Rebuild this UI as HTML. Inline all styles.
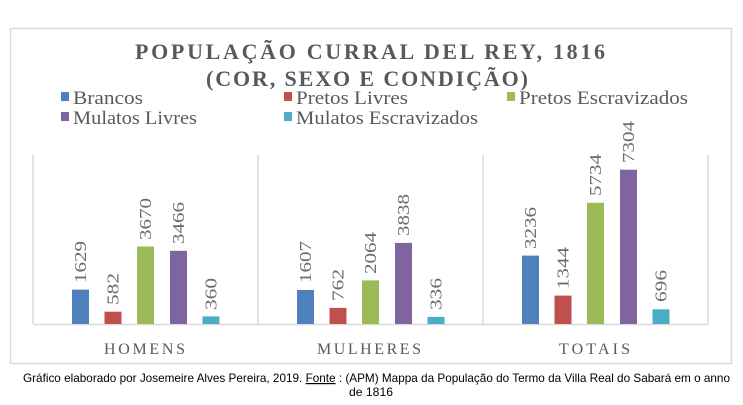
<!DOCTYPE html>
<html><head><meta charset="utf-8"><style>
body{margin:0;background:#fff;}
svg{display:block;}
</style></head><body>
<svg width="743" height="405" viewBox="0 0 743 405" xmlns="http://www.w3.org/2000/svg">
<rect x="10.5" y="28.5" width="721" height="335" fill="#fff" stroke="#d9d9d9" stroke-width="1.5"/>
<g font-family="Liberation Serif, serif" fill="#595959">
<text x="135" y="59" font-size="22" font-weight="bold" textLength="470" lengthAdjust="spacing">POPULAÇÃO CURRAL DEL REY, 1816</text>
<text x="206" y="86" font-size="22" font-weight="bold" textLength="322" lengthAdjust="spacing">(COR, SEXO E CONDIÇÃO)</text>
<g font-size="19">
<rect x="61" y="92" width="8" height="9" fill="#4f81bd"/><text x="73" y="104" textLength="70" lengthAdjust="spacingAndGlyphs">Brancos</text>
<rect x="284" y="92" width="8" height="9" fill="#c0504d"/><text x="296" y="104" textLength="112" lengthAdjust="spacingAndGlyphs">Pretos Livres</text>
<rect x="507" y="92" width="8" height="9" fill="#9bbb59"/><text x="519" y="104" textLength="169" lengthAdjust="spacingAndGlyphs">Pretos Escravizados</text>
<rect x="61" y="112" width="8" height="9" fill="#8064a2"/><text x="73" y="124" textLength="124" lengthAdjust="spacingAndGlyphs">Mulatos Livres</text>
<rect x="284" y="112" width="8" height="9" fill="#4bacc6"/><text x="296" y="124" textLength="182" lengthAdjust="spacingAndGlyphs">Mulatos Escravizados</text>
</g>
</g>
<g stroke="#d9d9d9" stroke-width="1.5">
<line x1="33" y1="155" x2="33" y2="324"/>
<line x1="258" y1="155" x2="258" y2="324"/>
<line x1="483" y1="155" x2="483" y2="324"/>
<line x1="708" y1="155" x2="708" y2="324"/>
<line x1="33" y1="324.5" x2="708" y2="324.5"/>
</g>
<g>
<rect x="72" y="289.6" width="17" height="34.4" fill="#4f81bd"/>
<rect x="104.5" y="311.7" width="17" height="12.3" fill="#c0504d"/>
<rect x="137" y="246.5" width="17" height="77.5" fill="#9bbb59"/>
<rect x="170" y="250.8" width="17" height="73.2" fill="#8064a2"/>
<rect x="202.5" y="316.4" width="17" height="7.6" fill="#4bacc6"/>
<rect x="297" y="290" width="17" height="34" fill="#4f81bd"/>
<rect x="329.5" y="307.9" width="17" height="16.1" fill="#c0504d"/>
<rect x="362" y="280.4" width="17" height="43.6" fill="#9bbb59"/>
<rect x="395" y="242.9" width="17" height="81.1" fill="#8064a2"/>
<rect x="427.5" y="316.9" width="17" height="7.1" fill="#4bacc6"/>
<rect x="522" y="255.6" width="17" height="68.4" fill="#4f81bd"/>
<rect x="554.5" y="295.6" width="17" height="28.4" fill="#c0504d"/>
<rect x="587" y="202.8" width="17" height="121.2" fill="#9bbb59"/>
<rect x="620" y="169.7" width="17" height="154.3" fill="#8064a2"/>
<rect x="652.5" y="309.3" width="17" height="14.7" fill="#4bacc6"/>
</g>
<g font-family="Liberation Serif, serif" font-size="17" fill="#6b6b6b" dominant-baseline="central">
<text transform="translate(80.5,283) rotate(-90)" textLength="42" lengthAdjust="spacingAndGlyphs">1629</text>
<text transform="translate(113,305) rotate(-90)" textLength="32" lengthAdjust="spacingAndGlyphs">582</text>
<text transform="translate(145.5,240) rotate(-90)" textLength="42" lengthAdjust="spacingAndGlyphs">3670</text>
<text transform="translate(178.5,244) rotate(-90)" textLength="42" lengthAdjust="spacingAndGlyphs">3466</text>
<text transform="translate(211,310) rotate(-90)" textLength="32" lengthAdjust="spacingAndGlyphs">360</text>
<text transform="translate(305.5,283) rotate(-90)" textLength="42" lengthAdjust="spacingAndGlyphs">1607</text>
<text transform="translate(338,301) rotate(-90)" textLength="32" lengthAdjust="spacingAndGlyphs">762</text>
<text transform="translate(370.5,274) rotate(-90)" textLength="42" lengthAdjust="spacingAndGlyphs">2064</text>
<text transform="translate(403.5,236) rotate(-90)" textLength="42" lengthAdjust="spacingAndGlyphs">3838</text>
<text transform="translate(436,310) rotate(-90)" textLength="32" lengthAdjust="spacingAndGlyphs">336</text>
<text transform="translate(530.5,249) rotate(-90)" textLength="42" lengthAdjust="spacingAndGlyphs">3236</text>
<text transform="translate(563,289) rotate(-90)" textLength="42" lengthAdjust="spacingAndGlyphs">1344</text>
<text transform="translate(595.5,196) rotate(-90)" textLength="42" lengthAdjust="spacingAndGlyphs">5734</text>
<text transform="translate(628.5,163) rotate(-90)" textLength="42" lengthAdjust="spacingAndGlyphs">7304</text>
<text transform="translate(661,302) rotate(-90)" textLength="32" lengthAdjust="spacingAndGlyphs">696</text>
</g>
<g font-family="Liberation Serif, serif" font-size="16" fill="#595959">
<text x="104" y="354" textLength="81" lengthAdjust="spacing">HOMENS</text>
<text x="317" y="354" textLength="104" lengthAdjust="spacing">MULHERES</text>
<text x="559" y="354" textLength="71" lengthAdjust="spacing">TOTAIS</text>
</g>
<g font-family="Liberation Sans, sans-serif" font-size="12" fill="#000">
<text x="23" y="382" textLength="707" lengthAdjust="spacingAndGlyphs">Gráfico elaborado por Josemeire Alves Pereira, 2019. <tspan text-decoration="underline">Fonte</tspan> : (APM) Mappa da População do Termo da Villa Real do Sabará em o anno</text>
<text x="349" y="396" textLength="44" lengthAdjust="spacingAndGlyphs">de 1816</text>
</g>
</svg>
</body></html>
